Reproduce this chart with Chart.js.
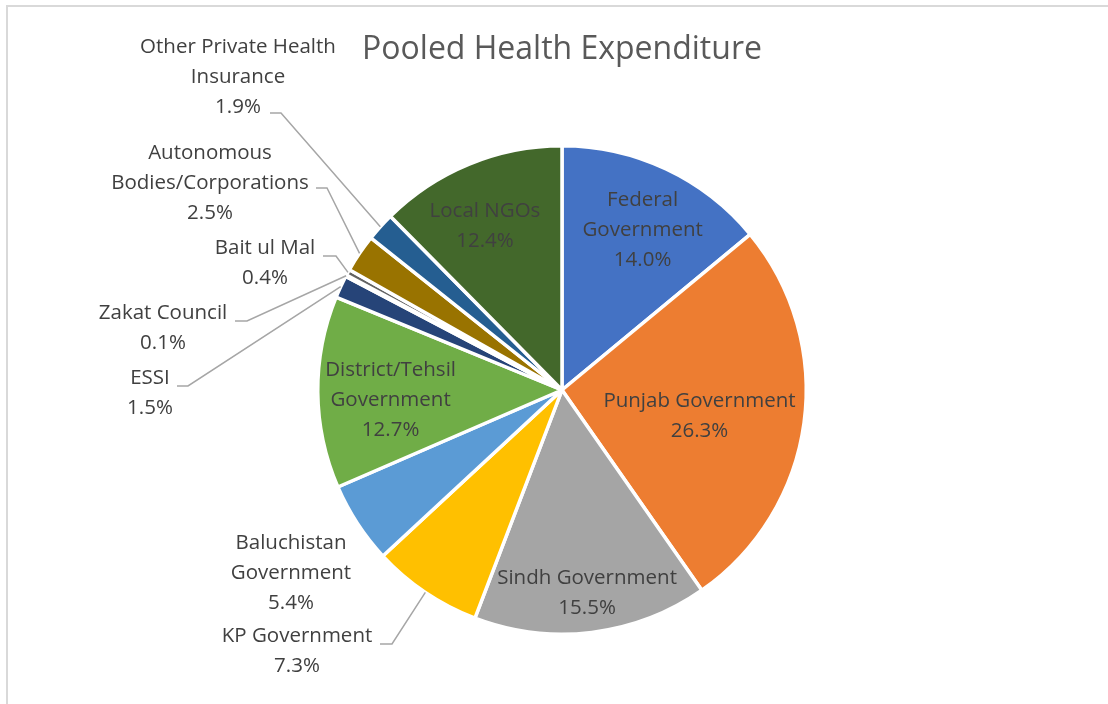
<!DOCTYPE html>
<html>
<head>
<meta charset="utf-8">
<title>Pooled Health Expenditure</title>
<script src="https://cdn.jsdelivr.net/npm/chart.js@4.4.1/dist/chart.umd.min.js"></script>
<style>
    html, body { margin: 0; padding: 0; background: #fff; }
    .wrap { position: relative; width: 1108px; height: 704px; overflow: hidden; }
    .frame { position: absolute; left: 6px; top: 5px; right: -10px; bottom: -10px; border-top: 2px solid #d9d9d9; border-left: 2px solid #d9d9d9; }
    canvas { position: absolute; left: 0; top: 0; }
</style>
</head>
<body>
<div class="wrap">
    <div class="frame"></div>
    <canvas id="pieChart" width="1108" height="704"></canvas>
</div>
<script>
// Data, clockwise from 12 o'clock
const categories = [
    'Federal Government', 'Punjab Government', 'Sindh Government', 'KP Government',
    'Baluchistan Government', 'District/Tehsil Government', 'ESSI', 'Zakat Council',
    'Bait ul Mal', 'Autonomous Bodies/Corporations', 'Other Private Health Insurance', 'Local NGOs'
];
const shares = [14.0, 26.3, 15.5, 7.3, 5.4, 12.7, 1.5, 0.1, 0.4, 2.5, 1.9, 12.4];
const sliceColors = [
    '#4472C4', '#ED7D31', '#A5A5A5', '#FFC000', '#5B9BD5', '#70AD47',
    '#264478', '#9E480E', '#636363', '#997300', '#255E91', '#43682B'
];

// How each category name wraps in its label
const labelLines = [
    ['Federal', 'Government'], ['Punjab Government'], ['Sindh Government'], ['KP Government'],
    ['Baluchistan', 'Government'], ['District/Tehsil', 'Government'], ['ESSI'], ['Zakat Council'],
    ['Bait ul Mal'], ['Autonomous', 'Bodies/Corporations'], ['Other Private Health', 'Insurance'], ['Local NGOs']
];

// Label placement: inside -> fraction of radius along mid angle (+ small angle nudge, degrees),
// outside -> offset of text block from pie centre, plus leader start/elbow
const labelPlace = [
    { r: 0.732, da: 1.6 },
    { r: 0.573, da: 3 },
    { r: 0.84, da: 0 },
    { dx: -265, dy: 261.5, lead: [[-182, 254], [-170, 254]] },
    { dx: -271, dy: 183 },
    { r: 0.703, da: -2.8 },
    { dx: -412, dy: 3, lead: [[-385, -4], [-374, -4]] },
    { dx: -399, dy: -62, lead: [[-327, -69], [-315, -69]] },
    { dx: -297, dy: -126.5, lead: [[-239, -134], [-226, -134]] },
    { dx: -352, dy: -207, lead: [[-246, -202], [-235, -202]] },
    { dx: -324, dy: -313, lead: [[-292, -277], [-281, -277]] },
    { r: 0.74, da: -2.9 }
];

const FONT = "'Open Sans', 'Noto Sans', sans-serif";
const LINE_H = 30;

const sliceLabels = {
    id: 'sliceLabels',
    afterDatasetsDraw(chart) {
        const ctx = chart.ctx;
        const meta = chart.getDatasetMeta(0);
        ctx.save();
        ctx.font = `20.5px ${FONT}`;
        ctx.fillStyle = '#404040';
        ctx.textAlign = 'center';
        ctx.textBaseline = 'middle';

        meta.data.forEach((arc, i) => {
            const p = labelPlace[i];
            const mid = (arc.startAngle + arc.endAngle) / 2;
            const lines = [...labelLines[i], shares[i].toFixed(1) + '%'];
            let cx, cy;

            if (p.r !== undefined) {
                const a = mid + p.da * Math.PI / 180;
                cx = arc.x + Math.cos(a) * arc.outerRadius * p.r;
                cy = arc.y + Math.sin(a) * arc.outerRadius * p.r;
            } else {
                cx = arc.x + p.dx;
                cy = arc.y + p.dy;
                if (p.lead) {
                    ctx.beginPath();
                    ctx.strokeStyle = '#a6a6a6';
                    ctx.lineWidth = 1.5;
                    ctx.moveTo(arc.x + p.lead[0][0], arc.y + p.lead[0][1]);
                    ctx.lineTo(arc.x + p.lead[1][0], arc.y + p.lead[1][1]);
                    ctx.lineTo(arc.x + Math.cos(mid) * arc.outerRadius, arc.y + Math.sin(mid) * arc.outerRadius);
                    ctx.stroke();
                }
            }

            lines.forEach((txt, k) => {
                ctx.fillText(txt, cx, cy + (k - (lines.length - 1) / 2) * LINE_H);
            });
        });
        ctx.restore();
    }
};

new Chart(document.getElementById('pieChart').getContext('2d'), {
    type: 'pie',
    data: {
        labels: categories,
        datasets: [{
            data: shares,
            backgroundColor: sliceColors,
            borderColor: '#ffffff',
            borderWidth: 3.5
        }]
    },
    options: {
        responsive: false,
        animation: false,
        layout: { padding: { left: 316, right: 300, top: 0, bottom: 68 } },
        plugins: {
            legend: { display: false },
            tooltip: { enabled: false },
            title: {
                display: true,
                text: 'Pooled Health Expenditure',
                color: '#595959',
                font: { family: FONT, size: 32, weight: 'normal', lineHeight: 1.2 },
                padding: { top: 31, bottom: 74.6 }
            }
        }
    },
    plugins: [sliceLabels]
});
</script>
</body>
</html>
